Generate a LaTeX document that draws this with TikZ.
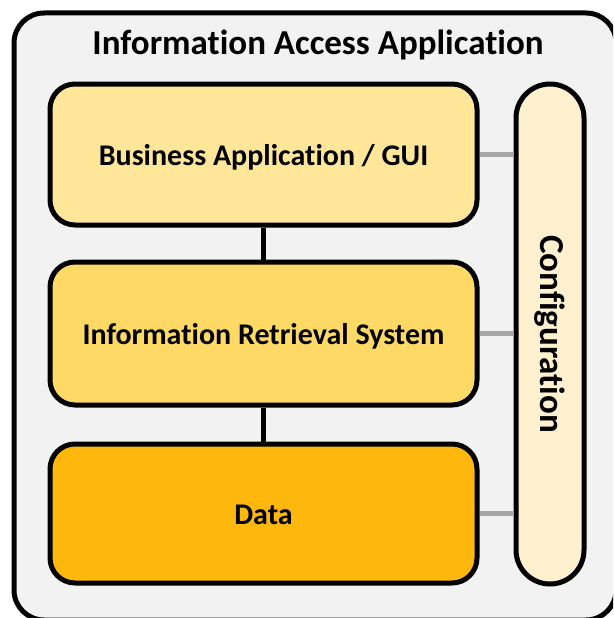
\documentclass[tikz,border=0pt]{standalone}
\usepackage{fontspec}
\setmainfont[RawFeature={-liga}]{Carlito}
\usetikzlibrary{positioning}
\definecolor{appgray}{HTML}{F2F2F2}
\definecolor{guifill}{HTML}{FFE699}
\definecolor{irsfill}{HTML}{FFD966}
\definecolor{datafill}{HTML}{FDB70D}
\definecolor{cfgfill}{HTML}{FFF0CF}
\definecolor{linkgray}{HTML}{A6A6A6}

\begin{document}
\begin{tikzpicture}[x=1pt,y=-1pt,
  layer/.style={draw,line width=5pt,rounded corners=25pt,minimum width=427pt,
    text height=27pt,text depth=6pt,font=\fontsize{30}{36}\selectfont\bfseries},
  link/.style={line width=5pt},
  cfglink/.style={line width=5pt,draw=linkgray}]
\clip (0,0) rectangle (613,618);
\node[draw,line width=5pt,rounded corners=30pt,fill=appgray,minimum width=602pt,
  minimum height=607pt] (app) at (315,316.5) {};
\node[font=\fontsize{35}{42}\selectfont\bfseries] (title) at (318,45) {Information Access Application};
\node[layer,fill=guifill,minimum height=141pt] (gui) at (263.5,154.5) {Business Application / GUI};
\node[layer,fill=irsfill,minimum height=143pt] (irs) at (263.5,333.5) {Information Retrieval System};
\node[layer,fill=datafill,minimum height=139pt] (data) at (263.5,513.5) {Data};
\node[draw,line width=5pt,rounded corners=34pt,fill=cfgfill,minimum width=500pt,
  minimum height=68pt,rotate=-90,font=\fontsize{35}{42}\selectfont\bfseries] (cfg) at (550,334) {Configuration};
% links
\draw[link] (gui) -- (irs);
\draw[link] (irs) -- (data);
\draw[cfglink] (gui.east) -- (gui.east -| cfg.south);
\draw[cfglink] (irs.east) -- (irs.east -| cfg.south);
\draw[cfglink] (data.east) -- (data.east -| cfg.south);
\end{tikzpicture}
\end{document}
